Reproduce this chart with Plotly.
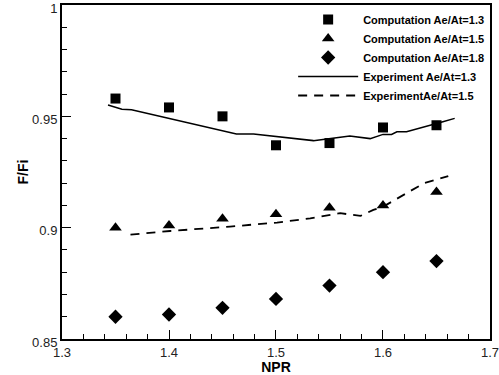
import plotly.graph_objects as go

npr_comp = [1.35, 1.40, 1.45, 1.50, 1.55, 1.60, 1.65]
comp_13 = [0.958, 0.954, 0.950, 0.937, 0.938, 0.945, 0.946]
comp_15 = [0.900, 0.901, 0.904, 0.906, 0.909, 0.910, 0.916]
comp_18 = [0.860, 0.861, 0.864, 0.868, 0.874, 0.880, 0.885]

exp13_x = [1.343, 1.356, 1.365, 1.410, 1.463, 1.479, 1.535, 1.569, 1.588, 1.600, 1.608, 1.613, 1.622, 1.656, 1.667]
exp13_y = [0.9551, 0.9532, 0.9530, 0.9480, 0.9421, 0.9421, 0.9391, 0.9412, 0.9400, 0.9419, 0.9419, 0.9431, 0.9431, 0.9476, 0.9491]

exp15_x = [1.364, 1.401, 1.457, 1.501, 1.532, 1.560, 1.579, 1.591, 1.600, 1.638, 1.661]
exp15_y = [0.8969, 0.8985, 0.9005, 0.9023, 0.9042, 0.9065, 0.9053, 0.9080, 0.9094, 0.9199, 0.9232]

x_ticks = [1.3, 1.4, 1.5, 1.6, 1.7]
x_ticktext = ["1.3", "1.4", "1.5", "1.6", "1.7"]
y_ticks = [0.85, 0.9, 0.95, 1.0]
y_ticktext = ["0.85", "0.9", "0.95", "1"]

names = ["Computation Ae/At=1.3", "Computation Ae/At=1.5", "Computation Ae/At=1.8",
         "Experiment Ae/At=1.3", "ExperimentAe/At=1.5"]

fig = go.Figure()
fig.add_trace(go.Scatter(x=npr_comp, y=comp_13, mode="markers", name=names[0],
                         marker=dict(symbol="square", size=10, color="black")))
fig.add_trace(go.Scatter(x=npr_comp, y=comp_15, mode="markers", name=names[1],
                         marker=dict(symbol="triangle-up", size=11, color="black")))
fig.add_trace(go.Scatter(x=npr_comp, y=comp_18, mode="markers", name=names[2],
                         marker=dict(symbol="diamond", size=11, color="black")))
fig.add_trace(go.Scatter(x=exp13_x, y=exp13_y, mode="lines", name=names[3],
                         line=dict(color="black", width=1.5)))
fig.add_trace(go.Scatter(x=exp15_x, y=exp15_y, mode="lines", name=names[4],
                         line=dict(color="black", width=1.8, dash="9px,7px")))

font_fam = "Liberation Sans, Arial"
axis_common = dict(showgrid=False, zeroline=False, showline=True, linecolor="black", linewidth=2,
                   mirror=True, ticks="inside", tickcolor="black", ticklen=9, tickwidth=1,
                   ticklabeloverflow="allow",
                   tickfont=dict(family=font_fam, size=13, color="#222"))

fig.update_xaxes(range=[1.3, 1.70001], tickvals=x_ticks, ticktext=x_ticktext,
                 minor=dict(tickvals=[1.32, 1.34, 1.36, 1.38, 1.42, 1.44, 1.46, 1.48, 1.52, 1.54, 1.56, 1.58,
                                      1.62, 1.64, 1.66, 1.68],
                            ticks="inside", ticklen=5, tickcolor="black"),
                 title=dict(text="<b>NPR</b>", font=dict(family=font_fam, size=14, color="black"), standoff=0),
                 automargin="bottom",
                 **axis_common)
fig.update_yaxes(range=[0.85, 1.00001], tickvals=y_ticks, ticktext=y_ticktext,
                 minor=dict(tickvals=[0.86, 0.87, 0.88, 0.89, 0.91, 0.92, 0.93, 0.94, 0.96, 0.97, 0.98, 0.99],
                            ticks="inside", ticklen=5, tickcolor="black"),
                 title=dict(text="<b>F/Fi</b>", font=dict(family=font_fam, size=14, color="black"), standoff=0),
                 automargin="left", ticklabelshift=3,
                 **axis_common)

fig.update_layout(
    width=499, height=375,
    margin=dict(l=62, r=9, t=5, b=36),
    paper_bgcolor="white", plot_bgcolor="white",
    showlegend=True,
    legend=dict(x=0.998, y=1.0, xanchor="right", yanchor="top", bgcolor="rgba(0,0,0,0)",
                font=dict(family=font_fam, size=11, color="black"),
                tracegroupgap=0, itemwidth=60),
)
for tr in fig.data:
    tr.name = "<b>" + tr.name + "</b>"

fig.write_html("out.html")
